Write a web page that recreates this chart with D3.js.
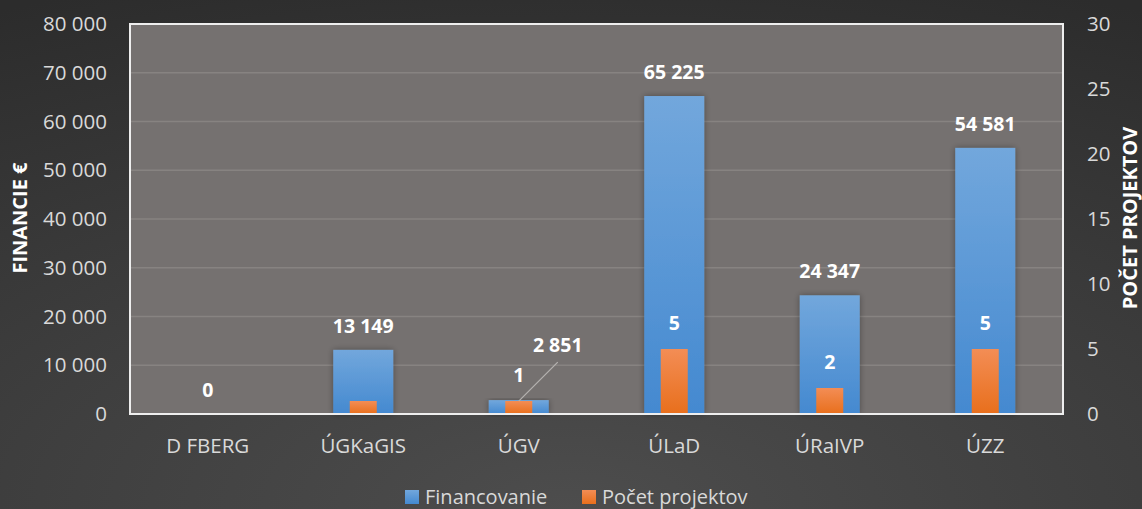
<!DOCTYPE html>
<html>
<head>
<meta charset="utf-8">
<script src="https://cdn.jsdelivr.net/npm/d3@7"></script>
<style>
  body { margin:0; background:#333; }
  svg { display:block; font-family:"Open Sans", "Noto Sans", sans-serif; }
</style>
</head>
<body>
<svg id="chart" width="1142" height="509" viewBox="0 0 1142 509"></svg>
<script>
// data
const categories = ["D FBERG", "ÚGKaGIS", "ÚGV", "ÚLaD", "ÚRaIVP", "ÚZZ"]
const financovanie = [0, 13149, 2851, 65225, 24347, 54581]
const pocetProjektov = [0, 1, 1, 5, 2, 5]
const showCountLabel = [false, false, true, true, true, true]
const leftTicks = [0, 10000, 20000, 30000, 40000, 50000, 60000, 70000, 80000]
const rightTicks = [0, 5, 10, 15, 20, 25, 30]

const svg = d3.select("#chart")
const width = 1142, height = 509
const plot = {left:130, right:1063, top:24, bottom:414}

const defs = svg.append("defs")
let bg = defs.append("radialGradient").attr("id","bg")
    .attr("cx","0.5").attr("cy","1").attr("r","1.1")
bg.append("stop").attr("offset","0").attr("stop-color","#4d4d4d")
bg.append("stop").attr("offset","1").attr("stop-color","#2c2c2c")

let gBlue = defs.append("linearGradient").attr("id","gBlue")
    .attr("x1",0).attr("y1",0).attr("x2",0).attr("y2",1)
gBlue.append("stop").attr("offset","0").attr("stop-color","#72a7dc")
gBlue.append("stop").attr("offset","1").attr("stop-color","#4489d0")

let gOrange = defs.append("linearGradient").attr("id","gOrange")
    .attr("x1",0).attr("y1",0).attr("x2",0).attr("y2",1)
gOrange.append("stop").attr("offset","0").attr("stop-color","#f38d55")
gOrange.append("stop").attr("offset","1").attr("stop-color","#e86f1c")

let shadow = defs.append("filter").attr("id","shadow")
    .attr("x","-30%").attr("y","-10%").attr("width","160%").attr("height","130%")
shadow.append("feDropShadow").attr("dx",0).attr("dy",0).attr("stdDeviation",3)
    .attr("flood-color","#000").attr("flood-opacity",0.35)

svg.append("rect").attr("width",width).attr("height",height).attr("fill","url(#bg)")

// scales
const x = d3.scaleBand().domain(categories).range([plot.left, plot.right])
const yLeft = d3.scaleLinear().domain([0, 80000]).range([plot.bottom, plot.top])
const yRight = d3.scaleLinear().domain([0, 30]).range([plot.bottom, plot.top])

svg.append("rect")
    .attr("x", plot.left).attr("y", plot.top)
    .attr("width", plot.right - plot.left).attr("height", plot.bottom - plot.top)
    .attr("fill", "#757170")

// gridlines
svg.append("g").selectAll("line")
    .data(leftTicks.slice(1, -1))
    .enter().append("line")
    .attr("x1", plot.left).attr("x2", plot.right)
    .attr("y1", d => yLeft(d)).attr("y2", d => yLeft(d))
    .attr("stroke", "#878381").attr("stroke-width", 1.5)

const fmt = d => d3.format(",")(d).replace(/,/g, " ")

// left axis
let leftAxis = svg.append("g")
    .attr("transform", `translate(${plot.left},0)`)
    .call(d3.axisLeft(yLeft).tickValues(leftTicks).tickFormat(fmt).tickSize(0).tickPadding(23))
leftAxis.select(".domain").remove()
leftAxis.selectAll("text").attr("fill","#d9d9d9").style("font-size","20.5px")
    .style("font-family",'"Open Sans", sans-serif')

// right axis
let rightAxis = svg.append("g")
    .attr("transform", `translate(${plot.right},0)`)
    .call(d3.axisRight(yRight).tickValues(rightTicks).tickSize(0).tickPadding(24))
rightAxis.select(".domain").remove()
rightAxis.selectAll("text").attr("fill","#d9d9d9").style("font-size","20.5px")
    .style("font-family",'"Open Sans", sans-serif')

// x axis labels
let xAxis = svg.append("g")
    .attr("transform", `translate(0,${plot.bottom})`)
    .call(d3.axisBottom(x).tickSize(0).tickPadding(24))
xAxis.select(".domain").remove()
xAxis.selectAll("text").attr("fill","#d9d9d9").style("font-size","20.5px")
    .style("font-family",'"Open Sans", sans-serif')

// bars
const blueW = 60, orangeW = 27
svg.append("g").selectAll("rect")
    .data(financovanie)
    .enter().append("rect")
    .attr("x", (d,i) => x(categories[i]) + x.bandwidth()/2 - blueW/2)
    .attr("y", d => yLeft(d))
    .attr("width", blueW)
    .attr("height", d => plot.bottom - yLeft(d))
    .attr("fill", "url(#gBlue)")
    .attr("filter", d => d > 0 ? "url(#shadow)" : null)

svg.append("g").selectAll("rect")
    .data(pocetProjektov)
    .enter().append("rect")
    .attr("x", (d,i) => x(categories[i]) + x.bandwidth()/2 - orangeW/2)
    .attr("y", d => yRight(d))
    .attr("width", orangeW)
    .attr("height", d => plot.bottom - yRight(d))
    .attr("fill", "url(#gOrange)")

// plot border
svg.append("rect")
    .attr("x", plot.left).attr("y", plot.top)
    .attr("width", plot.right - plot.left).attr("height", plot.bottom - plot.top)
    .attr("fill", "none").attr("stroke", "#eeeeee").attr("stroke-width", 2)

// data labels
const labelStyle = sel => sel.attr("fill","#ffffff").attr("text-anchor","middle")
    .style("font-size","19.5px").style("font-weight","bold")
    .style("font-family",'"Open Sans", sans-serif')

// ÚGV label is pulled aside with a leader line
const blueOffset = categories.map(c => c === "ÚGV" ? {dx:39, dy:-31} : {dx:0, dy:0})

svg.append("g").selectAll("line")
    .data(categories.filter(c => c === "ÚGV"))
    .enter().append("line")
    .attr("x1", c => x(c) + x.bandwidth()/2)
    .attr("y1", c => yLeft(financovanie[categories.indexOf(c)]) + 1)
    .attr("x2", c => x(c) + x.bandwidth()/2 + 39)
    .attr("y2", c => yLeft(financovanie[categories.indexOf(c)]) - 38)
    .attr("stroke", "#b5b2b0").attr("stroke-width", 1.3)

svg.append("g").selectAll("text")
    .data(financovanie)
    .enter().append("text")
    .attr("x", (d,i) => x(categories[i]) + x.bandwidth()/2 + blueOffset[i].dx)
    .attr("y", (d,i) => yLeft(d) - 17 + blueOffset[i].dy)
    .text(d => fmt(d))
    .call(labelStyle)

svg.append("g").selectAll("text")
    .data(pocetProjektov.map((d,i) => ({v:d, i:i})).filter(d => showCountLabel[d.i]))
    .enter().append("text")
    .attr("x", d => x(categories[d.i]) + x.bandwidth()/2)
    .attr("y", d => yRight(d.v) - 19)
    .text(d => d.v)
    .call(labelStyle)

// axis titles
svg.append("text")
    .attr("transform", `translate(27,218) rotate(-90)`)
    .attr("text-anchor","middle")
    .attr("fill","#ffffff")
    .style("font-size","20px").style("font-weight","bold")
    .text("FINANCIE €")

svg.append("text")
    .attr("transform", `translate(1137,218) rotate(-90)`)
    .attr("text-anchor","middle")
    .attr("fill","#ffffff")
    .style("font-size","20px").style("font-weight","bold")
    .text("POČET PROJEKTOV")

// legend
const legendItems = [
    {name:"Financovanie", fill:"url(#gBlue)", x:405},
    {name:"Počet projektov", fill:"url(#gOrange)", x:582}
]
let legend = svg.append("g").selectAll("g")
    .data(legendItems)
    .enter().append("g")
    .attr("transform", d => `translate(${d.x},490)`)
legend.append("rect").attr("width",14).attr("height",14).attr("fill", d => d.fill)
legend.append("text").attr("x",20).attr("y",13.5)
    .attr("fill","#d9d9d9").style("font-size","20px")
    .text(d => d.name)
</script>
</body>
</html>
